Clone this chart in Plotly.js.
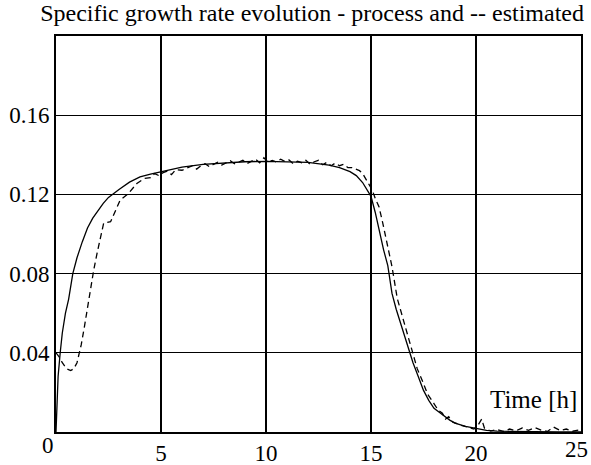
<!DOCTYPE html>
<html>
<head>
<meta charset="utf-8">
<script src="https://cdn.plot.ly/plotly-3.0.1.min.js"></script>
<style>html,body{margin:0;padding:0;background:#fff;}#chart{width:591px;height:465px;}</style>
</head>
<body>
<div id="chart"></div>
<script>
// Process (solid) series
var processT = [0, 0.05, 0.1, 0.2, 0.3, 0.45, 0.6, 0.8, 1.0, 1.25, 1.5, 1.75, 2.0, 2.25, 2.5, 2.75, 3.0, 3.5, 4.0, 4.5, 5.0, 6.0, 7.0, 8.0, 9.0, 10.0, 11.0, 12.0, 13.0, 13.5, 14.0, 14.3, 14.6, 14.8, 15.0, 15.2, 15.4, 15.6, 15.8, 16.0, 16.2, 16.4, 16.6, 16.8, 17.0, 17.25, 17.5, 17.75, 18.0, 18.25, 18.5, 18.75, 19.0, 19.5, 20.0, 20.5, 21, 22, 23, 24, 25];
var processMu = [0, 0.018, 0.028, 0.040, 0.050, 0.060, 0.067, 0.080, 0.088, 0.096, 0.103, 0.108, 0.112, 0.1155, 0.1185, 0.1207, 0.1225, 0.1262, 0.1288, 0.1303, 0.1315, 0.1338, 0.1352, 0.1360, 0.1365, 0.1367, 0.1366, 0.1362, 0.1348, 0.1335, 0.1315, 0.1295, 0.1260, 0.1225, 0.1190, 0.1110, 0.1010, 0.0920, 0.0840, 0.0700, 0.0620, 0.0550, 0.0480, 0.0420, 0.0350, 0.0280, 0.0210, 0.0160, 0.0120, 0.0100, 0.0078, 0.0060, 0.0045, 0.0028, 0.0018, 0.0008, 0.0004, 0.0002, 0.0001, 0.0001, 0.0001];

// Estimated (dashed) series
var estT = [0, 0.15, 0.3, 0.5, 0.7, 0.85, 1.0, 1.1, 1.2, 1.35, 1.5, 1.65, 1.8, 1.95, 2.1, 2.27, 2.6, 2.75, 3.05, 3.45, 3.85, 4.2, 4.5, 4.7, 4.9, 5.1, 5.3, 5.5, 5.7, 6.0, 6.25, 6.5, 6.7, 6.9, 7.1, 7.3, 7.5, 7.7, 7.9, 8.1, 8.3, 8.5, 8.7, 8.9, 9.1, 9.3, 9.5, 9.7, 9.9, 10.1, 10.3, 10.5, 10.7, 10.9, 11.1, 11.3, 11.5, 11.7, 11.9, 12.1, 12.3, 12.5, 12.7, 12.9, 13.1, 13.3, 13.5, 13.7, 13.9, 14.1, 14.3, 14.45, 14.6, 14.8, 15.06, 15.2, 15.38, 15.55, 15.7, 15.85, 16.0, 16.25, 16.45, 16.64, 16.8, 16.96, 17.2, 17.43, 17.7, 17.99, 18.2, 18.4, 18.55, 18.7, 18.9, 19.1, 19.3, 19.6, 19.9, 20.1, 20.27, 20.4, 20.7, 21.0, 21.3, 21.6, 21.9, 22.2, 22.5, 22.8, 23.1, 23.4, 23.7, 24.0, 24.3, 24.6, 25];
var estMu = [0.040, 0.038, 0.035, 0.032, 0.031, 0.032, 0.035, 0.039, 0.044, 0.053, 0.063, 0.071, 0.082, 0.090, 0.097, 0.1055, 0.1062, 0.1100, 0.1170, 0.1205, 0.1255, 0.1280, 0.1285, 0.1305, 0.1295, 0.1310, 0.1318, 0.1300, 0.1325, 0.1322, 0.1335, 0.1345, 0.1328, 0.1345, 0.1355, 0.1340, 0.1352, 0.1362, 0.1348, 0.1358, 0.1370, 0.1355, 0.1365, 0.1372, 0.1356, 0.1368, 0.1378, 0.1360, 0.1385, 0.1362, 0.1372, 0.1364, 0.1378, 0.1366, 0.1374, 0.1355, 0.1368, 0.1360, 0.1372, 0.1352, 0.1365, 0.1372, 0.1350, 0.1362, 0.1345, 0.1358, 0.1345, 0.1352, 0.1335, 0.1335, 0.1325, 0.1320, 0.1306, 0.1270, 0.1222, 0.1180, 0.1138, 0.1060, 0.0986, 0.0910, 0.0835, 0.0675, 0.0600, 0.0532, 0.0470, 0.0402, 0.0320, 0.0263, 0.0190, 0.0145, 0.0110, 0.0095, 0.0065, 0.0077, 0.0050, 0.0042, 0.0033, 0.0025, 0.0015, 0.0035, 0.0065, 0.0020, 0.0005, 0.0012, 0.0003, 0.0015, 0.0006, 0.0020, 0.0008, 0.0022, 0.0010, 0.0003, 0.0025, 0.0008, 0.0015, 0.0004, 0.0012];

var xTicks = [5, 10, 15, 20, 25];
var xTickText = ['5', '10', '15', '20', ''];
var yTicks = [0.04, 0.08, 0.12, 0.16];
var yTickText = ['0.04', '0.08', '0.12', '0.16'];

var fontFam = 'Liberation Serif, Times New Roman, Times, serif';

var traces = [
  {x: processT, y: processMu, mode: 'lines', type: 'scatter', line: {color: '#000', width: 1.3}, hoverinfo: 'skip'},
  {x: estT, y: estMu, mode: 'lines', type: 'scatter', line: {color: '#000', width: 1.3, dash: '6px,4px'}, hoverinfo: 'skip'}
];

var layout = {
  width: 591, height: 465,
  margin: {l: 56, r: 10, t: 36, b: 33},
  paper_bgcolor: '#fff', plot_bgcolor: '#fff',
  showlegend: false,
  font: {family: fontFam, size: 23, color: '#000'},
  title: {text: 'Specific growth rate evolution - process and -- estimated', font: {family: fontFam, size: 24, color: '#000'}, x: 0.528, xanchor: 'center', y: 0.972, yanchor: 'middle'},
  xaxis: {range: [0, 25], tickvals: xTicks, ticktext: xTickText, showgrid: true, gridcolor: '#000', gridwidth: 1.4, showline: true, linecolor: '#000', linewidth: 1.8, mirror: true, zeroline: false, ticks: '', tickfont: {family: fontFam, size: 23, color: '#000'}},
  yaxis: {range: [0, 0.2], tickvals: yTicks, ticktext: yTickText, showgrid: true, gridcolor: '#000', gridwidth: 1.4, showline: true, linecolor: '#000', linewidth: 1.8, mirror: true, zeroline: false, ticks: '', tickfont: {family: fontFam, size: 23, color: '#000'}},
  annotations: [
    {text: 'Time [h]', xref: 'x', yref: 'y', x: 22.75, y: 0.0165, xanchor: 'center', yanchor: 'middle', showarrow: false, font: {family: fontFam, size: 25, color: '#000'}},
    {text: '0', xref: 'paper', yref: 'paper', x: -0.016, y: -0.035, xanchor: 'center', yanchor: 'middle', showarrow: false, font: {family: fontFam, size: 23, color: '#000'}},
    {text: '25', xref: 'paper', yref: 'paper', x: 0.991, y: -0.045, xanchor: 'center', yanchor: 'middle', showarrow: false, font: {family: fontFam, size: 23, color: '#000'}}
  ]
};

Plotly.newPlot('chart', traces, layout, {displayModeBar: false, staticPlot: true});
</script>
</body>
</html>
